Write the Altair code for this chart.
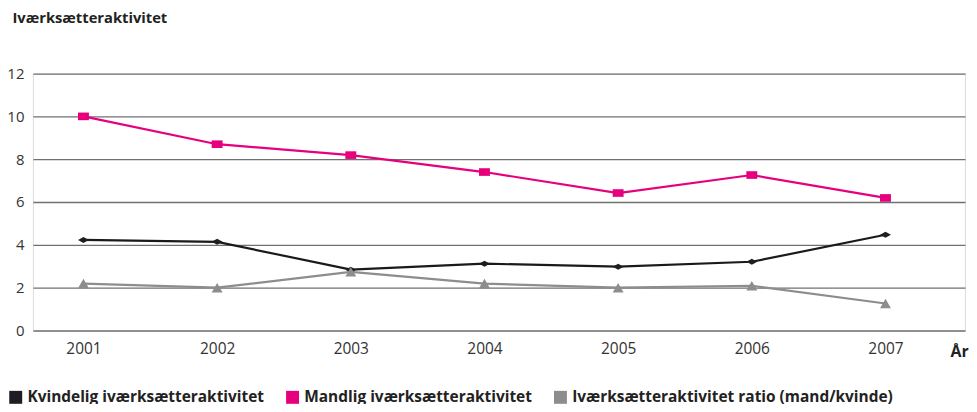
import altair as alt
import pandas as pd

years = [2001, 2002, 2003, 2004, 2005, 2006, 2007]
series_names = ["Kvindelig iværksætteraktivitet",
                "Mandlig iværksætteraktivitet",
                "Iværksætteraktivitet ratio (mand/kvinde)"]
kvindelig = [4.23, 4.14, 2.84, 3.12, 2.98, 3.21, 4.47]
mandlig = [10.0, 8.7, 8.19, 7.4, 6.42, 7.26, 6.19]
ratio = [2.19, 2.0, 2.74, 2.19, 2.0, 2.09, 1.26]
y_ticks = [0, 2, 4, 6, 8, 10, 12]

rows = []
for name, vals in zip(series_names, [kvindelig, mandlig, ratio]):
    for yr, v in zip(years, vals):
        rows.append({"aar": yr, "vaerdi": v, "serie": name, "form": name, "linje": name})
df = pd.DataFrame(rows)

colors = ["#1f1d24", "#e6007e", "#8d8d90"]
line_colors = ["#1a1a1a", "#e6007e", "#8d8d90"]
shapes = ["M-1,0L0,-0.55L1,0L0,0.55Z", "M-1,-0.7L1,-0.7L1,0.7L-1,0.7Z", "triangle-up"]
FONT = "Open Sans"

# reversed domains for the unlabelled scales so their (disabled) legends are not merged
rev_names = series_names[::-1]

x = alt.X("aar:Q",
          scale=alt.Scale(domain=[2000.6217, 2007.595], nice=False, zero=False),
          axis=alt.Axis(values=years, format="d", grid=False, domain=False, ticks=False,
                        labelFontSize=15.5, labelColor="#333333", labelFont=FONT,
                        labelPadding=11, labelFontWeight=400,
                        title="År", titleFont=FONT, titleFontSize=16, titleFontWeight="bold",
                        titleColor="#222222", titleAngle=0, titleX=930, titleY=21,
                        titleAlign="center", titleBaseline="middle"))
y = alt.Y("vaerdi:Q",
          scale=alt.Scale(domain=[0, 12], nice=False),
          axis=alt.Axis(values=y_ticks, grid=True, gridColor="#707070", gridWidth=1.3,
                        domain=False, ticks=False, labelPadding=9, labelFontSize=15,
                        labelColor="#333333", labelFont=FONT, labelFontWeight=400,
                        title="Iværksætteraktivitet", titleFont=FONT, titleFontSize=14.8,
                        titleFontWeight="bold", titleColor="#222222", titleAngle=0,
                        titleX=-21, titleY=-55, titleAlign="left", titleBaseline="middle"))

lines = alt.Chart(df).mark_line(strokeWidth=2.2).encode(
    x=x, y=y,
    stroke=alt.Stroke("linje:N", scale=alt.Scale(domain=rev_names, range=line_colors[::-1]), legend=None),
)

points = alt.Chart(df).mark_point(filled=True, opacity=1, size=120).encode(
    x=x, y=y,
    color=alt.Color("serie:N", scale=alt.Scale(domain=series_names, range=colors),
                    legend=alt.Legend(title=None, orient="none", legendX=-25, legendY=317,
                                      direction="horizontal", symbolType="square",
                                      symbolSize=169, symbolStrokeWidth=0, symbolOpacity=1,
                                      labelFont=FONT, labelFontSize=15.5, labelFontWeight="bold",
                                      labelColor="#222222", labelOffset=4, columnPadding=20,
                                      labelLimit=500, padding=0)),
    shape=alt.Shape("form:N", scale=alt.Scale(domain=rev_names, range=shapes[::-1]), legend=None),
)

chart = alt.layer(lines, points).properties(
    width=936, height=258,
    autosize=alt.AutoSizeParams(type="none"),
    padding={"left": 25, "top": 65, "right": 4, "bottom": 73},
).configure_view(stroke=None).configure(background="white")

chart.save("out.html", embed_options={"renderer": "svg", "actions": False})
